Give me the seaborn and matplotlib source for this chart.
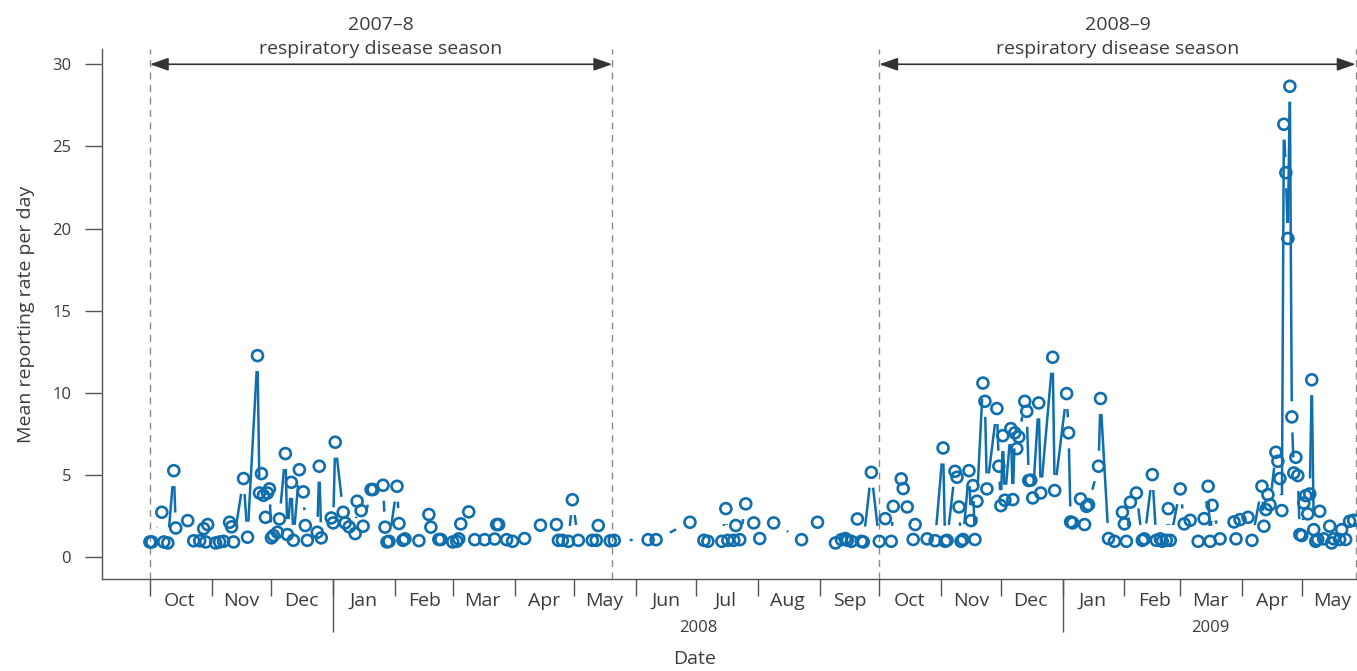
import numpy as np
import pandas as pd
import matplotlib.pyplot as plt
import matplotlib.dates as mdates
import matplotlib.ticker as mticker
from matplotlib.collections import LineCollection
import seaborn as sns

# daily mean reporting rate
dates = [
    "2007-10-01", "2007-10-02", "2007-10-07", "2007-10-08", "2007-10-10", "2007-10-13", "2007-10-14",
    "2007-10-20", "2007-10-23", "2007-10-26", "2007-10-28", "2007-10-29", "2007-10-30",
    "2007-11-03", "2007-11-05", "2007-11-07", "2007-11-10", "2007-11-11", "2007-11-12", "2007-11-17",
    "2007-11-19", "2007-11-24", "2007-11-25", "2007-11-26", "2007-11-27", "2007-11-28", "2007-11-29",
    "2007-11-30",
    "2007-12-01", "2007-12-02", "2007-12-04", "2007-12-05", "2007-12-08", "2007-12-09", "2007-12-11",
    "2007-12-12", "2007-12-15", "2007-12-17", "2007-12-18", "2007-12-19", "2007-12-24", "2007-12-25",
    "2007-12-26", "2007-12-31",
    "2008-01-01", "2008-01-02", "2008-01-06", "2008-01-07", "2008-01-09", "2008-01-12", "2008-01-13",
    "2008-01-15", "2008-01-16", "2008-01-20", "2008-01-21", "2008-01-26", "2008-01-27", "2008-01-28",
    "2008-01-29",
    "2008-02-02", "2008-02-03", "2008-02-05", "2008-02-06", "2008-02-13", "2008-02-18", "2008-02-19",
    "2008-02-23", "2008-02-24",
    "2008-03-01", "2008-03-03", "2008-03-04", "2008-03-05", "2008-03-09", "2008-03-12", "2008-03-17",
    "2008-03-22", "2008-03-23", "2008-03-24", "2008-03-28", "2008-03-31",
    "2008-04-06", "2008-04-14", "2008-04-22", "2008-04-23", "2008-04-25", "2008-04-28", "2008-04-30",
    "2008-05-03", "2008-05-10", "2008-05-12", "2008-05-13", "2008-05-19", "2008-05-21",
    "2008-06-07", "2008-06-11", "2008-06-28",
    "2008-07-05", "2008-07-07", "2008-07-14", "2008-07-16", "2008-07-17", "2008-07-20", "2008-07-21",
    "2008-07-23", "2008-07-26", "2008-07-30",
    "2008-08-02", "2008-08-09", "2008-08-23", "2008-08-31",
    "2008-09-09", "2008-09-12", "2008-09-14", "2008-09-15", "2008-09-17", "2008-09-20", "2008-09-22",
    "2008-09-23", "2008-09-27",
    "2008-10-01", "2008-10-04", "2008-10-07", "2008-10-08", "2008-10-12", "2008-10-13", "2008-10-15",
    "2008-10-18", "2008-10-19", "2008-10-25", "2008-10-29",
    "2008-11-02", "2008-11-03", "2008-11-04", "2008-11-08", "2008-11-09", "2008-11-10", "2008-11-11",
    "2008-11-12", "2008-11-15", "2008-11-16", "2008-11-17", "2008-11-18", "2008-11-19", "2008-11-22",
    "2008-11-23", "2008-11-24", "2008-11-29", "2008-11-30",
    "2008-12-01", "2008-12-02", "2008-12-03", "2008-12-06", "2008-12-07", "2008-12-08", "2008-12-09",
    "2008-12-10", "2008-12-13", "2008-12-14", "2008-12-15", "2008-12-16", "2008-12-17", "2008-12-20",
    "2008-12-21", "2008-12-27", "2008-12-28",
    "2009-01-03", "2009-01-04", "2009-01-05", "2009-01-06", "2009-01-10", "2009-01-12", "2009-01-13",
    "2009-01-14", "2009-01-19", "2009-01-20", "2009-01-24", "2009-01-27", "2009-01-31",
    "2009-02-01", "2009-02-02", "2009-02-04", "2009-02-07", "2009-02-10", "2009-02-11", "2009-02-15",
    "2009-02-17", "2009-02-19", "2009-02-20", "2009-02-22", "2009-02-23", "2009-02-24",
    "2009-03-01", "2009-03-03", "2009-03-06", "2009-03-10", "2009-03-13", "2009-03-15", "2009-03-16",
    "2009-03-17", "2009-03-21", "2009-03-28", "2009-03-29", "2009-03-31",
    "2009-04-04", "2009-04-06", "2009-04-11", "2009-04-12", "2009-04-13", "2009-04-14", "2009-04-15",
    "2009-04-18", "2009-04-19", "2009-04-20", "2009-04-21", "2009-04-22", "2009-04-23", "2009-04-24",
    "2009-04-25", "2009-04-26", "2009-04-27", "2009-04-28", "2009-04-29", "2009-04-30",
    "2009-05-01", "2009-05-02", "2009-05-03", "2009-05-04", "2009-05-05", "2009-05-06", "2009-05-07",
    "2009-05-08", "2009-05-09", "2009-05-10", "2009-05-12", "2009-05-15", "2009-05-16", "2009-05-17",
    "2009-05-20", "2009-05-21", "2009-05-23", "2009-05-25", "2009-05-27",
]

rate = [
    0.93, 0.93, 2.74, 0.93, 0.87, 5.27, 1.78,
    2.23, 1.00, 1.00, 1.74, 0.93, 1.99,
    0.87, 0.93, 0.97, 2.13, 1.85, 0.93, 4.79,
    1.22, 12.27, 3.91, 5.09, 3.77, 2.43, 3.91,
    4.16,
    1.18, 1.32, 1.52, 2.33, 6.31, 1.38, 4.56,
    1.03, 5.33, 3.98, 1.93, 1.03, 1.52, 5.54,
    1.18, 2.39,
    2.09, 7.00, 2.74, 2.09, 1.85, 1.44, 3.41,
    2.84, 1.89, 4.12, 4.12, 4.38, 1.83, 0.93,
    0.97,
    4.32, 2.05, 1.03, 1.12, 1.01, 2.60, 1.83,
    1.08, 1.08,
    0.93, 0.97, 1.12, 2.03, 2.76, 1.07, 1.07,
    1.11, 1.99, 1.99, 1.07, 0.97,
    1.14, 1.95, 1.99, 1.03, 1.03, 0.97, 3.50,
    1.03, 1.03, 1.03, 1.93, 1.00, 1.03,
    1.07, 1.07, 2.13,
    1.03, 0.97, 0.97, 2.96, 1.03, 1.03, 1.93,
    1.07, 3.25, 2.09,
    1.14, 2.09, 1.07, 2.13,
    0.87, 1.07, 1.14, 1.03, 0.97, 2.33, 0.97,
    0.93, 5.17,
    0.97, 2.35, 0.97, 3.10, 4.77, 4.18, 3.06,
    1.08, 1.99, 1.12, 1.01,
    6.65, 0.97, 1.03, 5.23, 4.87, 3.06, 0.97,
    1.08, 5.27, 2.23, 4.36, 1.08, 3.41, 10.60,
    9.49, 4.16, 9.05, 5.54,
    3.14, 7.40, 3.47, 7.83, 3.51, 7.57, 6.61,
    7.32, 9.49, 8.88, 4.67, 4.69, 3.61, 9.39,
    3.91, 12.17, 4.06,
    9.96, 7.57, 2.15, 2.09, 3.55, 1.99, 3.10,
    3.20, 5.54, 9.66, 1.14, 0.97, 2.74,
    2.03, 0.97, 3.35, 3.91, 1.03, 1.12, 5.03,
    1.03, 1.12, 0.97, 1.03, 2.96, 1.03,
    4.16, 2.03, 2.25, 0.97, 2.35, 4.32, 0.97,
    3.16, 1.12, 2.15, 1.12, 2.29,
    2.43, 1.03, 4.32, 1.89, 2.90, 3.81, 3.20,
    6.39, 5.84, 4.79, 2.84, 26.35, 23.40, 19.40,
    28.66, 8.54, 5.13, 6.08, 4.97, 1.38,
    1.32, 3.30, 3.75, 2.64, 3.85, 10.80, 1.68,
    0.97, 1.08, 2.80, 1.12, 1.89, 0.87, 1.12,
    1.08, 1.68, 1.08, 2.19, 2.25,
]

season_start = ["2007-10-01", "2008-10-01"]
season_end = ["2008-05-20", "2009-05-28"]
season_name = ["2007\u20138", "2008\u20139"]

df = pd.DataFrame({"date": pd.to_datetime(dates), "rate": rate})

sns.set_style("ticks")
plt.rcParams["font.family"] = ["Open Sans", "DejaVu Sans"]

blue = "#0f6eae"
ink = "#3c3c3c"
axis_col = "#555555"

fig = plt.figure(figsize=(13.57, 6.71), dpi=100)
ax = fig.add_axes([0.0749, 0.1367, 0.9251, 0.7898])

sns.scatterplot(data=df, x="date", y="rate", ax=ax, marker="o", s=62,
                facecolor="none", edgecolor=blue, linewidth=1.9, zorder=3)

x0 = pd.Timestamp("2007-10-01")
ax.set_xlim(x0 - pd.Timedelta(days=24.2), x0 + pd.Timedelta(days=605.7))
ax.set_ylim(-1.34, 30.91)

# lines between successive days, stopped short of the circles (like R type="b")
gap = 15.5
xy = np.column_stack([mdates.date2num(df["date"]), df["rate"]])
pix = ax.transData.transform(xy)
d = pix[1:] - pix[:-1]
n = np.hypot(d[:, 0], d[:, 1])
keep = n > 2 * gap
u = d[keep] / n[keep, None]
a = ax.transData.inverted().transform(pix[:-1][keep] + u * gap)
b = ax.transData.inverted().transform(pix[1:][keep] - u * gap)
segs = np.stack([a, b], axis=1)
ax.add_collection(LineCollection(segs, colors=blue, linewidths=1.8, zorder=2))

# season markers
for s, e, name in zip(season_start, season_end, season_name):
    s, e = pd.Timestamp(s), pd.Timestamp(e)
    for v in (s, e):
        ax.axvline(v, color="#8a8a8a", lw=1, ls=(0, (5, 4)), zorder=1)
    ax.annotate("", xy=(e, 30), xytext=(s, 30),
                arrowprops=dict(arrowstyle="<|-|>,head_length=0.8,head_width=0.28",
                                color="#333333", lw=1.2, mutation_scale=14,
                                shrinkA=0, shrinkB=0))
    mid = s + (e - s) / 2
    ax.annotate("respiratory disease season", xy=(mid, 30), xytext=(0, 7.5),
                textcoords="offset points", ha="center", va="baseline",
                fontsize=14, color=ink, annotation_clip=False)
    ax.annotate(name, xy=(mid, 30), xytext=(0, 25),
                textcoords="offset points", ha="center", va="baseline",
                fontsize=14, color=ink, annotation_clip=False)

# y axis
ax.set_yticks([0, 5, 10, 15, 20, 25, 30])
ax.tick_params(axis="y", length=12, width=1, color=axis_col, pad=10,
               labelsize=12, labelcolor=ink)
ax.set_ylabel("Mean reporting rate per day", fontsize=14, color=ink)
ax.yaxis.set_label_coords(-0.053, 0.5)

# x axis: month ticks, month names in between
months = pd.date_range("2007-10-01", "2009-05-01", freq="MS")
ax.xaxis.set_major_locator(mticker.FixedLocator(mdates.date2num(months)))
ax.xaxis.set_major_formatter(mticker.NullFormatter())
ax.xaxis.set_minor_locator(mticker.FixedLocator(mdates.date2num(months + pd.Timedelta(days=15))))
ax.xaxis.set_minor_formatter(mdates.DateFormatter("%b"))
ax.tick_params(axis="x", which="major", length=12, width=1, color=axis_col)
ax.tick_params(axis="x", which="minor", length=0, pad=9, labelsize=14, labelcolor=ink)
ax.set_xlabel("Date", fontsize=14, color=ink)
ax.xaxis.set_label_coords(0.4726, -0.133)

# years: long ticks at Jan 1, year under the middle of its visible part
jan = pd.to_datetime(["2008-01-01", "2009-01-01"])
xmax = mdates.num2date(ax.get_xlim()[1]).replace(tzinfo=None)
year_mid = [pd.Timestamp("2008-07-02"), jan[1] + (pd.Timestamp(xmax) - jan[1]) / 2]
sec = ax.secondary_xaxis("bottom")
sec.set_xticks(mdates.date2num(jan))
sec.xaxis.set_major_formatter(mticker.NullFormatter())
sec.xaxis.set_minor_locator(mticker.FixedLocator(mdates.date2num(year_mid)))
sec.xaxis.set_minor_formatter(mticker.FixedFormatter(["2008", "2009"]))
sec.tick_params(axis="x", which="major", length=38, width=1, color=axis_col)
sec.tick_params(axis="x", which="minor", length=0, pad=29, labelsize=12, labelcolor=ink)
sec.spines["bottom"].set_visible(False)

for side in ("top", "right"):
    ax.spines[side].set_visible(False)
for side in ("left", "bottom"):
    ax.spines[side].set_color(axis_col)
    ax.spines[side].set_linewidth(1)

fig.savefig("out.png", dpi=100)
